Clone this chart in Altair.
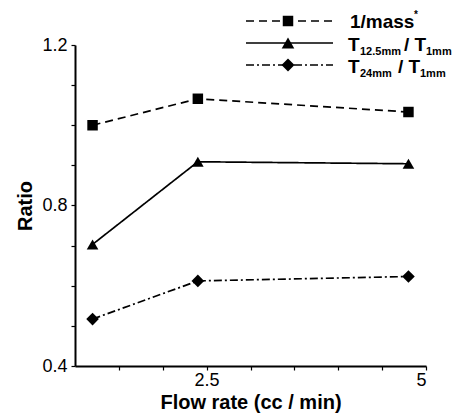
import altair as alt
import pandas as pd

# ---- data ----
flow_rate = [1.2, 2.4, 4.8]
inv_mass = [1.000, 1.066, 1.033]
t_125 = [0.703, 0.909, 0.904]
t_24 = [0.517, 0.612, 0.623]
series = ["1/mass*", "T12.5mm / T1mm", "T24mm / T1mm"]
x_ticks = [1.5, 2, 2.5, 3, 3.5, 4, 4.5, 5]      # labelled: 2.5 and 5
y_ticks = [0.4, 0.5, 0.6, 0.7, 0.8, 0.9, 1.0, 1.1, 1.2]  # labelled: 0.4, 0.8, 1.2

rows = []
for name, vals in zip(series, [inv_mass, t_125, t_24]):
    for f, v in zip(flow_rate, vals):
        rows.append({"series": name, "flow": f, "ratio": v})
df = pd.DataFrame(rows)

W, H = 351, 321
FONT = "Liberation Sans"

xscale = alt.Scale(domain=[1, 5], nice=False, zero=False)
yscale = alt.Scale(domain=[0.4, 1.2], nice=False, zero=False)

dash_range = [[8, 5], [1, 0], [8, 3, 2, 3]]
shape_range = ["square", "triangle-up", "diamond"]
size_range = [110, 160, 170]

common = dict(grid=False, domainColor="black", tickColor="black", labelFont=FONT,
              labelColor="black", titleFont=FONT, titleColor="black",
              titleFontWeight="bold")

x_axis = alt.Axis(values=x_ticks, format=".2~g",
                  labelExpr="round(datum.value * 2) % 5 == 0 ? datum.label : ''",
                  title="Flow rate (cc / min)", domainWidth=2, ticks=True,
                  tickSize=4, tickWidth=1.2, labelPadding=1, labelFontSize=18,
                  titleFontSize=20, titlePadding=3, orient="bottom", **common)
y_axis = alt.Axis(values=y_ticks, format=".1f",
                  labelExpr="round(datum.value * 10) % 4 == 0 ? datum.label : ''",
                  title="Ratio", domainWidth=2, ticks=True,
                  tickSize=4, tickWidth=1.2, labelPadding=4, labelFontSize=18,
                  titleFontSize=20, titlePadding=6, orient="left", **common)

base = alt.Chart(df)

lines = base.mark_line(color="black", strokeWidth=1.7).encode(
    x=alt.X("flow:Q", scale=xscale, axis=x_axis),
    y=alt.Y("ratio:Q", scale=yscale, axis=y_axis),
    strokeDash=alt.StrokeDash("series:N", scale=alt.Scale(domain=series, range=dash_range), legend=None),
    detail="series:N",
)

points = base.mark_point(filled=True, color="black", opacity=1).encode(
    x=alt.X("flow:Q", scale=xscale),
    y=alt.Y("ratio:Q", scale=yscale),
    shape=alt.Shape("series:N", scale=alt.Scale(domain=series, range=shape_range), legend=None),
    size=alt.Size("series:N", scale=alt.Scale(domain=series, range=size_range), legend=None),
)

# ---- hand-drawn legend (to allow subscripts) ----
one = alt.Chart(pd.DataFrame({"k": [0]}))
LX0, LX1, LXM = 171, 258, 213
row_y = [-24, -2, 20]
legend_layers = []
for i, ry in enumerate(row_y):
    legend_layers.append(one.mark_rule(color="black", strokeWidth=1.7, strokeDash=dash_range[i]).encode(
        x=alt.value(LX0), x2=alt.value(LX1), y=alt.value(ry)))
    legend_layers.append(one.mark_point(filled=True, color="black", opacity=1,
                                        shape=shape_range[i], size=size_range[i]).encode(
        x=alt.value(LXM), y=alt.value(ry)))


def txt(s, x, y, size):
    return one.mark_text(text=s, align="left", baseline="alphabetic", font=FONT,
                         fontSize=size, fontWeight="bold", color="black").encode(
        x=alt.value(x), y=alt.value(y))


legend_layers += [
    txt("1/mass", 275, -17, 19),
    txt("*", 339, -27, 10),
    txt("T", 273, 6, 19),
    txt("12.5mm", 285, 10, 11),
    txt("/ T", 329, 6, 19),
    txt("1mm", 351, 10, 11),
    txt("T", 273, 28, 19),
    txt("24mm", 285, 32, 11),
    txt("/ T", 323, 28, 19),
    txt("1mm", 345, 32, 11),
]

chart = alt.layer(lines, points, *legend_layers).properties(
    width=W, height=H,
    autosize=alt.AutoSizeParams(type="none"),
    padding={"left": 75, "top": 45, "right": 32, "bottom": 49},
).configure_view(stroke=None)

chart.save("out.html", embed_options={"renderer": "svg", "actions": False})
